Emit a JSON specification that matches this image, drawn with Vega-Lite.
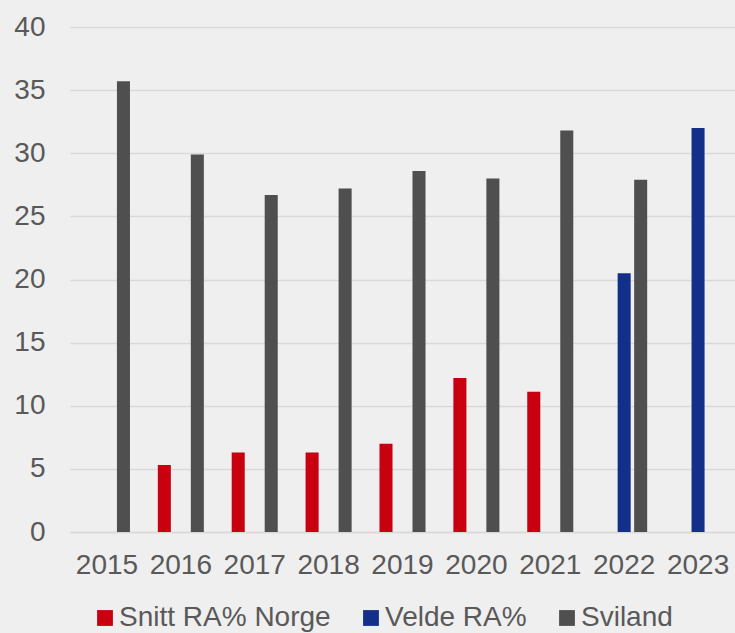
{
  "$schema": "https://vega.github.io/schema/vega-lite/v6.json",
  "width": 665,
  "height": 505,
  "autosize": "none",
  "padding": {"left": 70, "top": 27, "right": 0, "bottom": 101},
  "background": "#efefef",
  "data": {
    "values": [
      {"year": "2015", "series": "Sviland", "value": 35.7},
      {"year": "2016", "series": "Snitt RA% Norge", "value": 5.3},
      {"year": "2016", "series": "Sviland", "value": 29.9},
      {"year": "2017", "series": "Snitt RA% Norge", "value": 6.3},
      {"year": "2017", "series": "Sviland", "value": 26.7},
      {"year": "2018", "series": "Snitt RA% Norge", "value": 6.3},
      {"year": "2018", "series": "Sviland", "value": 27.2},
      {"year": "2019", "series": "Snitt RA% Norge", "value": 7.0},
      {"year": "2019", "series": "Sviland", "value": 28.6},
      {"year": "2020", "series": "Snitt RA% Norge", "value": 12.2},
      {"year": "2020", "series": "Sviland", "value": 28.0},
      {"year": "2021", "series": "Snitt RA% Norge", "value": 11.1},
      {"year": "2021", "series": "Sviland", "value": 31.8},
      {"year": "2022", "series": "Velde RA%", "value": 20.5},
      {"year": "2022", "series": "Sviland", "value": 27.9},
      {"year": "2023", "series": "Velde RA%", "value": 32.0}
    ]
  },
  "mark": {"type": "bar"},
  "encoding": {
    "x": {
      "field": "year",
      "type": "ordinal",
      "title": null,
      "scale": {"paddingInner": 0.33, "paddingOuter": 0.165},
      "axis": {
        "labelAngle": 0,
        "labelFontSize": 28,
        "labelColor": "#595959",
        "labelPadding": 19,
        "ticks": false,
        "domainColor": "#d9d9d9",
        "domainWidth": 1.5,
        "grid": false
      }
    },
    "xOffset": {
      "field": "series",
      "type": "nominal",
      "scale": {
        "domain": ["Snitt RA% Norge", "Velde RA%", "Sviland"],
        "paddingInner": 0.21,
        "paddingOuter": 0.105
      }
    },
    "y": {
      "field": "value",
      "type": "quantitative",
      "title": null,
      "scale": {"domain": [0, 40], "nice": false},
      "axis": {
        "values": [0, 5, 10, 15, 20, 25, 30, 35, 40],
        "labelFontSize": 28,
        "labelColor": "#595959",
        "labelPadding": 25,
        "ticks": false,
        "domain": false,
        "gridColor": "#d9d9d9",
        "gridWidth": 1.5
      }
    },
    "color": {
      "field": "series",
      "type": "nominal",
      "scale": {
        "domain": ["Snitt RA% Norge", "Velde RA%", "Sviland"],
        "range": ["#c8000f", "#12308a", "#4f4f4f"]
      },
      "legend": {
        "title": null,
        "orient": "none",
        "direction": "horizontal",
        "legendX": 21,
        "legendY": 577,
        "padding": 0,
        "symbolType": "square",
        "symbolSize": 250,
        "symbolStrokeWidth": 0,
        "labelFontSize": 28,
        "labelColor": "#595959",
        "labelOffset": 0,
        "labelLimit": 0,
        "columnPadding": 26
      }
    }
  },
  "config": {
    "view": {"stroke": null},
    "font": "Liberation Sans"
  }
}
